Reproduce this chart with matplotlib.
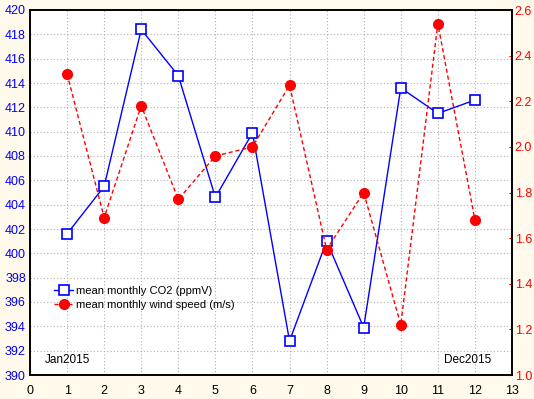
import matplotlib
matplotlib.use('Agg')
import matplotlib.pyplot as plt

months = [1, 2, 3, 4, 5, 6, 7, 8, 9, 10, 11, 12]
co2 = [401.6, 405.5, 418.4, 414.6, 404.6, 409.9, 392.8, 401.0, 393.9, 413.6, 411.5, 412.6]
wind = [2.32, 1.69, 2.18, 1.77, 1.96, 2.00, 2.27, 1.55, 1.80, 1.22, 2.54, 1.68]

plt.rcParams['font.family'] = ['Liberation Sans', 'DejaVu Sans']
plt.rcParams['font.size'] = 8.5

fig = plt.figure(figsize=(5.34, 3.99), dpi=100, facecolor='#fffaeb')
ax = fig.add_axes([30 / 534, 24 / 399, 482 / 534, 365 / 399])
ax2 = ax.twinx()

l1, = ax.plot(months, co2, color='#0000ff', lw=1, marker='s', ms=6.8,
              mfc='white', mec='#0000ff', mew=1.2, label='mean monthly CO2 (ppmV)')
l2, = ax2.plot(months, wind, color='#ff0000', lw=1, ls=(0, (3, 2)), marker='o', ms=7,
               mfc='#ff0000', mec='#ff0000', label='mean monthly wind speed (m/s)')

ax.set_xlim(0, 13)
ax.set_ylim(390, 420)
ax2.set_ylim(1.0, 2.6)
ax.set_xticks(range(0, 14))
ax.set_yticks(range(390, 421, 2))
ax2.set_yticks([1.0, 1.2, 1.4, 1.6, 1.8, 2.0, 2.2, 2.4, 2.6])
ax2.set_yticklabels(['%.1f' % v for v in ax2.get_yticks()])

ax.grid(True, color='#b0b0b0', ls=(0, (1, 2)), lw=0.8)
ax.set_axisbelow(True)
ax.tick_params(axis='y', colors='#0000ff', length=0, pad=3, labelsize=9)
ax.tick_params(axis='x', colors='black', length=0, pad=7, labelsize=9)
ax2.tick_params(axis='y', colors='#ff0000', length=2, direction='in', pad=2, labelsize=9)
for sp in ax.spines.values():
    sp.set_linewidth(1.2)
for sp in ax2.spines.values():
    sp.set_linewidth(1.2)

ax.text(0.4, 391.0, 'Jan2015', fontsize=8.5)
ax.text(12.45, 391.0, 'Dec2015', fontsize=8.5, ha='right')

leg = ax.legend([l1, l2], [l1.get_label(), l2.get_label()], loc='lower left',
                bbox_to_anchor=(0.03, 0.15), frameon=False, handlelength=1.7,
                handletextpad=0.25, labelspacing=0.35, fontsize=8)

fig.savefig('out.png', dpi=100, facecolor=fig.get_facecolor())
